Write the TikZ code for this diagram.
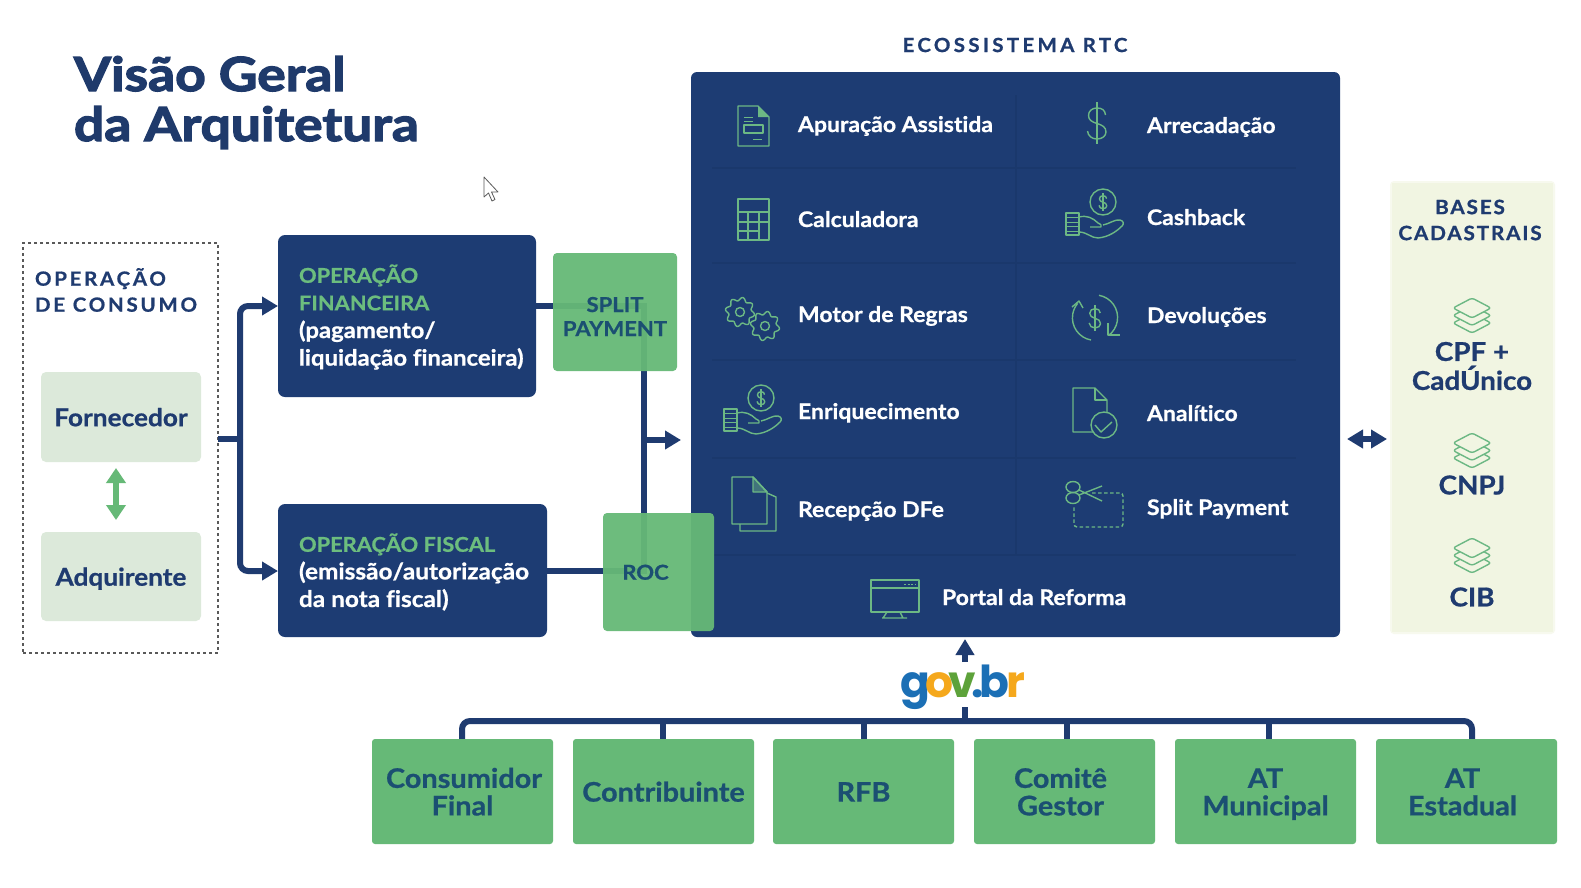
\documentclass[tikz,border=0pt]{standalone}
\usepackage{fontspec}
\setmainfont[Ligatures=CommonOff,BoldFeatures={FakeBold=.8,FakeStretch=1.07}]{Lato}
\newfontfamily\spaced[LetterSpace=9,Ligatures=CommonOff,BoldFeatures={FakeBold=.8,FakeStretch=1.05}]{Lato}
\newfontfamily\spacedw[LetterSpace=14,Ligatures=CommonOff,BoldFeatures={FakeBold=.8,FakeStretch=1.05}]{Lato}
\newfontfamily\spacedx[LetterSpace=17,Ligatures=CommonOff,BoldFeatures={FakeBold=.8,FakeStretch=1.05}]{Lato}
\newfontfamily\heavy[Ligatures=CommonOff,BoldFeatures={FakeBold=2.8,FakeStretch=1.135}]{Lato}
\newfontfamily\logofont{Poppins}
\newcommand\vp{\vphantom{Ág}}
\usetikzlibrary{arrows.meta}
\definecolor{navy}{HTML}{1D3C73}
\definecolor{navyline}{HTML}{1F3B70}
\definecolor{gridc}{HTML}{1A386C}
\definecolor{titlec}{HTML}{1F3A6B}
\definecolor{green}{HTML}{66B977}
\definecolor{lgreen}{HTML}{DCE9DA}
\definecolor{basebg}{HTML}{F1F5E2}
\definecolor{txtg}{HTML}{6CBD7E}
\definecolor{ondark}{HTML}{1B4F72}
\definecolor{icong}{HTML}{6CB884}
\tikzset{
  every node/.style={inner sep=0pt,outer sep=0pt,font=\bfseries,execute at begin node={\lineskiplimit=-30pt\relax}},
  conn/.style={draw=navyline,line width=6pt},
  arrowed/.style={conn,-{Triangle[length=16pt,width=18pt]}},
  navybox/.style={fill=navy,rounded corners=7pt,anchor=north west},
  greenbox/.style={fill=green,fill opacity=.95,text opacity=1,rounded corners=4pt,anchor=north west,text=ondark,align=center,font=\bfseries\fontsize{20.6}{24}\selectfont},
  softbox/.style={fill=lgreen,rounded corners=5pt,anchor=north west,text=navyline,font=\bfseries\fontsize{24.5}{28}\selectfont},
  paneltxt/.style={anchor=base west,text=white,font=\bfseries\fontsize{21.5}{26}\selectfont},
  boxtxt/.style={anchor=west,align=left,text=white,font=\bfseries\fontsize{22.8}{27.6}\selectfont},
  basetxt/.style={anchor=center,align=center,text=navyline,font=\bfseries\fontsize{26}{29}\selectfont},
  capstxt/.style={anchor=center,align=center,text=navyline,font=\spaced\bfseries\fontsize{19.8}{26}\selectfont},
  icon/.style={draw=icong,line width=1.4pt,line join=round},
  actor/.style={fill=green,rounded corners=3pt,anchor=north west,minimum width=181pt,minimum height=105pt,text=ondark,align=center,font=\bfseries\fontsize{27}{27.5}\selectfont},
}
\newcommand\hd[1]{\textcolor{txtg}{\fontsize{20.4}{27.6}\selectfont #1}}
\newcommand\dollarmark[3]{%
  \begin{scope}[shift={(#1,#2)},scale=#3]
    \draw[icon] (0,-21) -- (0,21);
    \draw[icon] (8.5,-8) .. controls (8,-13) and (5,-15) .. (0,-15) .. controls (-5,-15) and (-8.5,-12) .. (-8.5,-7.5) .. controls (-8.5,-3) and (-5,-1) .. (0,.5) .. controls (5,2) and (9,4) .. (9,9) .. controls (9,13) and (5,16) .. (0,16) .. controls (-5,16) and (-9,13) .. (-9.5,8);
  \end{scope}}
\newcommand\handicon[2]{%
  \begin{scope}[shift={(#1,#2)}]
    \draw[icon] (0,0) circle (13pt);
    \dollarmark{0}{0}{.42}
    \draw[icon] (-37,11) rectangle (-24,33);
    \foreach \yy in {15.5,20,24.5,29} \draw[icon,line width=1pt] (-37,\yy) -- (-24,\yy);
    \draw[icon] (-24,15) .. controls (-16,13) and (-10,16) .. (-5,21) .. controls (-2,22) and (-1,24) .. (-2,25) -- (-13,25);
    \draw[icon] (0,23) .. controls (6,22) and (12,17) .. (17,18) .. controls (21,19) and (21,22) .. (19,24) .. controls (14,29) and (6,35) .. (-5,36) .. controls (-12,36) and (-16,30) .. (-24,30);
  \end{scope}}
\newcommand\gearicon[3]{%
  \draw[icon,domain=0:360,samples=145] plot ({#1+(#3+1.7*sin(8*\x))*cos(\x)},{#2+(#3+1.7*sin(8*\x))*sin(\x)}) -- cycle;
  \draw[icon] (#1,#2) circle (4.5pt);}
\newcommand\stackicon[2]{%
  \begin{scope}[shift={(#1,#2)}]
    \foreach \dy in {15,7.5,0}
      \draw[icon,fill=basebg,rounded corners=2.5pt] (0,\dy) -- (19,\dy+10) -- (0,\dy+20) -- (-19,\dy+10) -- cycle;
  \end{scope}}
\begin{document}
\begin{tikzpicture}[x=1pt,y=-1pt]
\useasboundingbox (0,0) rectangle (1581,887);
\fill[white] (0,0) rectangle (1581,887);

% title
\node[anchor=base west,text=titlec,font=\heavy\bfseries\fontsize{47}{52}\selectfont] (title1) at (74,91) {Visão Geral};
\node[anchor=base west,text=titlec,font=\heavy\bfseries\fontsize{47}{52}\selectfont] (title2) at (74,141) {da Arquitetura};

% pointer
\draw[draw=gray!70!black,fill=white,line width=.8pt,line join=round] (484,177) -- (484,197) -- (488.5,193) -- (492,201) -- (495,199.5) -- (491.5,192) -- (498,192) -- cycle;

% consumo
\node[draw=black!65,dashed,line width=1.1pt,anchor=north west,minimum width=195pt,minimum height=410pt] (consumo) at (23,243) {};
\node[capstxt,anchor=west,align=left,font=\spacedw\bfseries\fontsize{19.5}{26}\selectfont] (consumot) at (35,290) {OPERAÇÃO\\DE CONSUMO};
\node[softbox,minimum width=160pt,minimum height=90pt] (forn) at (41,372) {\vp Fornecedor};
\node[softbox,minimum width=160pt,minimum height=89pt] (adq) at (41,532) {\vp Adquirente};
\draw[draw=green,line width=6pt,{Triangle[length=15pt,width=19pt]}-{Triangle[length=15pt,width=19pt]}] (116,468) -- (116,520);

% navy boxes
\node[navybox,minimum width=258pt,minimum height=162pt] (opfin) at (278,235) {};
\node[navybox,minimum width=269pt,minimum height=133pt] (opfis) at (278,504) {};
\node[boxtxt,font=\bfseries\fontsize{22.3}{27.6}\selectfont] (opfint) at (299,317) {\hd{OPERAÇÃO}\\\hd{FINANCEIRA}\\(pagamento/\\liquidação financeira)};
\node[boxtxt] (opfist) at (299,572) {\hd{OPERAÇÃO FISCAL}\\(emissão/autorização\\da nota fiscal)};

% bus from consumo
\coordinate (bus) at (240,439);
\coordinate (busf) at (278,306);
\coordinate (busc) at (278,571);
\draw[conn] (consumo.east |- bus) -- (bus);
\draw[arrowed,rounded corners=8pt] (bus) |- (busf);
\draw[arrowed,rounded corners=8pt] (bus) |- (busc);

% panel
\node[navybox,rounded corners=6pt,minimum width=649pt,minimum height=565pt] (panel) at (691,72) {};
\foreach \yy in {168,263,360,458,555} \draw[gridc,line width=1.5pt] (712,\yy) -- (1296,\yy);
\draw[gridc,line width=1.5pt] (1016,95) -- (1016,555);

% split/roc connectors (behind the translucent boxes)
\coordinate (vtop) at (644,306);
\coordinate (vbot) at (644,571);
\coordinate (vmid) at (644,440);
\coordinate (vtip) at (681,440);
\draw[conn] (opfin.east |- vtop) -- (vtop) -- (vbot) -- (opfis.east |- vbot);
\draw[arrowed] (vmid) -- (vtip);

\node[greenbox,minimum width=124pt,minimum height=118pt] (split) at (553,253) {\rule{0pt}{24pt}SPLIT\\PAYMENT};
\node[greenbox,minimum width=111pt,minimum height=118pt] (roc) at (603,513) {\hspace*{-26pt}\vp ROC};

% ecosystem heading and items
\node[capstxt,font=\spacedx\bfseries\fontsize{19.5}{26}\selectfont] (eco) at (1015,45) {ECOSSISTEMA RTC};
\node[paneltxt] (i1) at (798,132) {Apuração Assistida};
\node[paneltxt] (i2) at (798,227) {Calculadora};
\node[paneltxt] (i3) at (798,322) {Motor de Regras};
\node[paneltxt] (i4) at (798,419) {Enriquecimento};
\node[paneltxt] (i5) at (798,517) {Recepção DFe};
\node[paneltxt] (i6) at (1147,133) {Arrecadação};
\node[paneltxt] (i7) at (1147,225) {Cashback};
\node[paneltxt] (i8) at (1147,323) {Devoluções};
\node[paneltxt] (i9) at (1147,421) {Analítico};
\node[paneltxt] (i10) at (1147,515) {Split Payment};
\node[paneltxt] (i11) at (942,605) {Portal da Reforma};

% icon: apuracao
\draw[icon] (738,106) -- (758,106) -- (769,117) -- (769,146) -- (738,146) -- cycle;
\fill[icong] (758,106) -- (769,117) -- (758,117) -- cycle;
\draw[icon,line width=1pt] (744,117) -- (753,117) (744,121) -- (753,121) (753,139) -- (762,139);
\draw[icon,line width=1.2pt] (744,125) rectangle (763,133);
% icon: calculadora
\draw[icon] (738,199) rectangle (769,240);
\draw[icon] (738,212) -- (769,212) (738,222) -- (769,222) (738,231) -- (759,231) (748,212) -- (748,240) (759,212) -- (759,240);
% icon: gears
\gearicon{740}{312}{13}
\gearicon{765}{326}{13}
% icon: hands
\handicon{1103}{202}
\handicon{761}{398}
% icon: dollar
\dollarmark{1097}{123}{1}
% icon: devolucoes
\draw[icon] (1099,295.3) arc[start angle=80,end angle=-52,radius=22.5pt];
\draw[icon] (1091,340) arc[start angle=260,end angle=140,radius=22.5pt];
\draw[icon] (1072,307) -- (1079,301) -- (1083,308);
\draw[icon] (1108,323) -- (1108,335) -- (1120,335);
\dollarmark{1095}{318}{.62}
% icon: recepcao
\draw[icon] (740,524) -- (740,531) -- (776,531) -- (776,497) -- (767,493);
\draw[icon,fill=icong!45!navy] (753,477) -- (767,492) -- (753,492) -- cycle;
\draw[icon] (732,477) -- (753,477) -- (767,492) -- (767,524) -- (732,524) -- cycle;
% icon: analitico
\draw[icon] (1073,388) -- (1095,388) -- (1107,400) -- (1107,432) -- (1073,432) -- cycle;
\draw[icon] (1095,388) -- (1095,400) -- (1107,400);
\draw[icon,fill=navy] (1104,425) circle (13pt);
\draw[icon] (1095,425) -- (1101,432) -- (1112,422);
% icon: scissors
\draw[icon,rounded corners=3pt,dash pattern=on 3.5pt off 2.5pt] (1092,493) -- (1123,493) -- (1123,527) -- (1074,527) -- (1074,505);
\draw[icon] (1073,487) ellipse (7pt and 5.5pt);
\draw[icon] (1073,498) ellipse (7pt and 5.5pt);
\draw[icon] (1079,490) -- (1102,501) (1079,495) -- (1102,486);
% icon: portal
\draw[icon] (871,580) rectangle (919,612);
\draw[icon] (871,588) -- (919,588);
\draw[icon,line width=1pt,dash pattern=on 2pt off 1.5pt] (904,584) -- (916,584);
\draw[icon] (887,612) -- (883,618) (900,612) -- (903,618) (882,618) -- (907,618);

% bases
\node[fill=basebg!60!white,rounded corners=4pt,anchor=north west,minimum width=165pt,minimum height=453pt] (basesb) at (1390,181) {};
\node[fill=basebg,anchor=north west,minimum width=161pt,minimum height=449pt] (bases) at (1392,183) {};
\node[capstxt] (basest) at (1470,220) {BASES\\CADASTRAIS};
\stackicon{1472}{298}
\stackicon{1472}{433}
\stackicon{1472}{538}
\node[basetxt] (b1) at (1472,366) {CPF +\\CadÚnico};
\node[basetxt] (b2) at (1472,485) {CNPJ};
\node[basetxt] (b3) at (1472,597) {CIB};
\coordinate (dl) at (1347,439);
\coordinate (dr) at (1387,439);
\draw[draw=navyline,line width=6pt,{Triangle[length=16pt,width=18pt]}-{Triangle[length=16pt,width=18pt]}] (dl) -- (dr);

% gov.br
\coordinate (govtop) at (965,707);
\coordinate (govb) at (965,721);
\coordinate (govup) at (965,639);
\coordinate (govdn) at (965,662);
\node[anchor=base west,font=\logofont\bfseries\fontsize{44}{50}\selectfont] (gov) at (900,697) {\textcolor[HTML]{1B6FB5}{g}\kern-4.5pt\textcolor[HTML]{F5A81C}{o}\kern-4.5pt\textcolor[HTML]{5DA23A}{v}\kern-4.5pt\textcolor[HTML]{1B6FB5}{.}\kern-4.5pt\textcolor[HTML]{1B6FB5}{b}\kern-3pt\textcolor[HTML]{F5A81C}{r}};
\draw[draw=navyline,line width=6pt,-{Triangle[length=16pt,width=18pt]}] (govdn) -- (govup);

% bottom boxes
\draw[conn,rounded corners=8pt] (462,739) -- (462,721) -- (1472,721) -- (1472,739);
\draw[conn] (govtop) -- (govb);
\foreach \xx in {663,864,1067,1269} \draw[conn] (\xx,721) -- (\xx,739);
\node[actor] (a1) at (372,739) {\vp\hspace*{3pt}Consumidor\\Final\vp};
\node[actor] (a2) at (573,739) {\vp Contribuinte};
\node[actor] (a3) at (773,739) {\vp RFB};
\node[actor] (a4) at (974,739) {\vp\hspace*{-8pt}Comitê\\\hspace*{-8pt}Gestor\vp};
\node[actor] (a5) at (1175,739) {\vp AT\\Municipal\vp};
\node[actor] (a6) at (1376,739) {\vp\hspace*{-8pt}AT\\\hspace*{-8pt}Estadual\vp};
\end{tikzpicture}
\end{document}
